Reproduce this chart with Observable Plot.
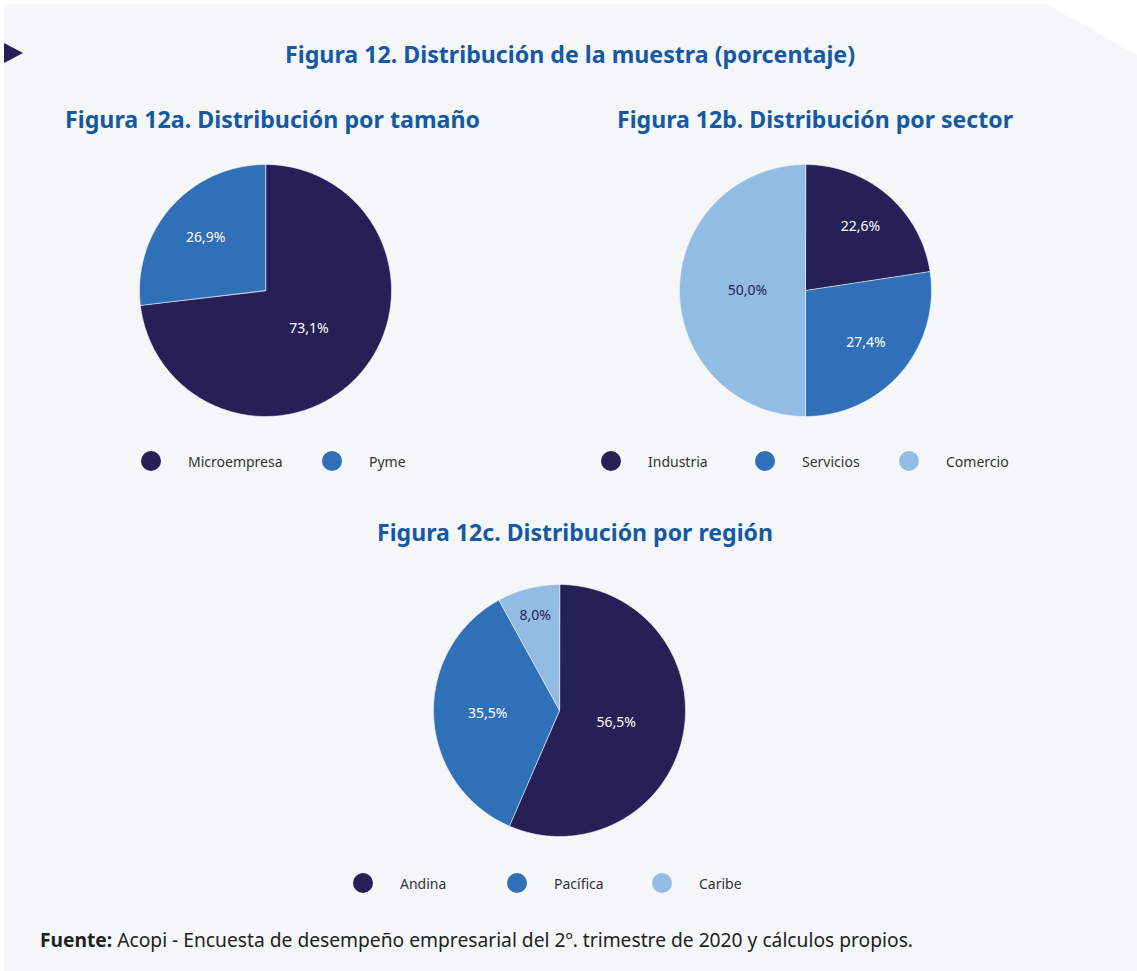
<!DOCTYPE html>
<html><head><meta charset="utf-8">
<script src="https://cdn.jsdelivr.net/npm/d3@7"></script>
<script src="https://cdn.jsdelivr.net/npm/@observablehq/plot@0.6"></script>
<style>
body{margin:0;background:#fff;font-family:"Noto Sans",sans-serif;}
#page{position:relative;width:1137px;height:971px;overflow:hidden}
#bg{position:absolute;left:0;top:0}
.pie{position:absolute}
.leg{position:absolute;height:20px;font-size:14px;color:#333;}
.item{position:absolute;top:0;height:20px;display:flex;align-items:center;white-space:nowrap}
.dot{width:20px;height:20px;border-radius:50%;margin-right:27px;flex:none}
</style></head>
<body><div id="page">
<svg id="bg" width="1137" height="971" font-family="Noto Sans">
  <polygon points="4,4 1047,4 1137,55 1137,971 4,971" fill="#f5f6f8"/>
  <polygon points="4,43 23,53 4,63" fill="#262056"/>
  <text x="570" y="63" text-anchor="middle" font-size="24" font-weight="700" fill="#1559a5" textLength="570" lengthAdjust="spacingAndGlyphs">Figura 12. Distribución de la muestra (porcentaje)</text>
  <text x="65" y="128" font-size="24" font-weight="700" fill="#1559a5" textLength="415" lengthAdjust="spacingAndGlyphs">Figura 12a. Distribución por tamaño</text>
  <text x="617" y="128" font-size="24" font-weight="700" fill="#1559a5" textLength="396" lengthAdjust="spacingAndGlyphs">Figura 12b. Distribución por sector</text>
  <text x="377" y="541" font-size="24" font-weight="700" fill="#1559a5" textLength="396" lengthAdjust="spacingAndGlyphs">Figura 12c. Distribución por región</text>
  <text x="40" y="947" font-size="19" fill="#222" textLength="873" lengthAdjust="spacingAndGlyphs"><tspan font-weight="700">Fuente:</tspan> Acopi - Encuesta de desempeño empresarial del 2º. trimestre de 2020 y cálculos propios.</text>
</svg>
</div>
<script>
// ---- data ----
const tamanoCats = ["Microempresa", "Pyme"];
const tamanoVals = [73.1, 26.9];
const sectorCats = ["Industria", "Servicios", "Comercio"];
const sectorVals = [22.6, 27.4, 50.0];
const regionCats = ["Andina", "Pacífica", "Caribe"];
const regionVals = [56.5, 35.5, 8.0];
const palette = ["#262056", "#3070b8", "#93bce5"];

// ---- layout ----
const SIZE = 256;
const charts = [
  {cats: tamanoCats, vals: tamanoVals, cx: 265, cy: 290, legY: 451, legX: [141, 322]},
  {cats: sectorCats, vals: sectorVals, cx: 805, cy: 290, legY: 451, legX: [601, 755, 899]},
  {cats: regionCats, vals: regionVals, cx: 559, cy: 710, legY: 873, legX: [353, 507, 652]}
];

const fmt = v => v.toFixed(1).replace(".", ",") + "%";

function pieData(cats, vals) {
  const total = d3.sum(vals);
  const pts = [], labels = [];
  let acc = 0;
  cats.forEach((c, i) => {
    const a0 = acc / total * 2 * Math.PI;
    acc += vals[i];
    const a1 = acc / total * 2 * Math.PI;
    pts.push({cat: c, x: 0, y: 0});
    const n = Math.max(2, Math.ceil((a1 - a0) / (Math.PI / 180)));
    for (let k = 0; k <= n; k++) {
      const a = a0 + (a1 - a0) * k / n;
      pts.push({cat: c, x: Math.sin(a), y: Math.cos(a)});
    }
    const m = (a0 + a1) / 2;
    const share = vals[i] / total * 100;
    const f = 0.46 + 0.38 * Math.max(0, 1 - share / 50);
    labels.push({cat: c, idx: i, label: fmt(vals[i]), x: f * Math.sin(m), y: f * Math.cos(m)});
  });
  return {pts, labels};
}

const page = document.getElementById("page");
charts.forEach(ch => {
  const {pts, labels} = pieData(ch.cats, ch.vals);
  const plot = Plot.plot({
    width: SIZE, height: SIZE, margin: 2,
    x: {domain: [-1, 1], axis: null},
    y: {domain: [-1, 1], axis: null},
    color: {domain: ch.cats, range: palette},
    style: {background: "transparent", overflow: "visible", fontFamily: "Noto Sans"},
    marks: [
      Plot.line(pts, {x: "x", y: "y", z: "cat", fill: "cat", stroke: "#f5f6f8", strokeWidth: 0.6, curve: "linear-closed"}),
      Plot.text(labels.filter(d => d.idx < 2), {x: "x", y: "y", text: "label", fill: "white", fontSize: 14}),
      Plot.text(labels.filter(d => d.idx >= 2), {x: "x", y: "y", text: "label", fill: palette[0], fontSize: 14})
    ]
  });
  plot.classList.add("pie");
  plot.style.left = (ch.cx - SIZE / 2) + "px";
  plot.style.top = (ch.cy - SIZE / 2) + "px";
  page.appendChild(plot);

  const leg = document.createElement("div");
  leg.className = "leg";
  leg.style.top = ch.legY + "px";
  leg.style.left = "0px";
  ch.cats.forEach((c, i) => {
    const it = document.createElement("div");
    it.className = "item";
    it.style.left = ch.legX[i] + "px";
    const dot = document.createElement("span");
    dot.className = "dot";
    dot.style.background = palette[i];
    const t = document.createElement("span");
    t.textContent = c;
    it.appendChild(dot); it.appendChild(t);
    leg.appendChild(it);
  });
  page.appendChild(leg);
});
</script>
</body></html>
